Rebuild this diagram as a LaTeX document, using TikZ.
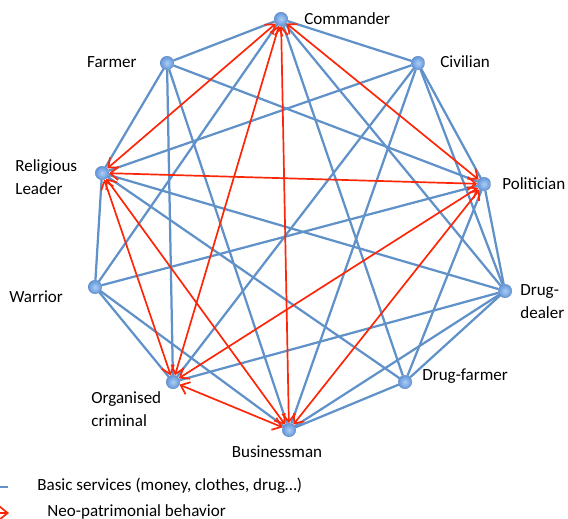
\documentclass[tikz,border=0pt]{standalone}
\usepackage{fontspec}
\setmainfont{Carlito}
\usepackage{tikz}
\usetikzlibrary{arrows.meta,backgrounds}
\definecolor{basicblue}{RGB}{96,146,201}
\definecolor{neored}{RGB}{252,38,8}
\definecolor{ballhi}{RGB}{170,205,245}
\definecolor{ballblue}{RGB}{100,150,218}

\begin{document}
\begin{tikzpicture}[x=0.2mm,y=-0.2mm,
  actor/.style={circle,inner sep=0pt,minimum size=2.7mm,draw=ballblue!85!black,very thin,
    inner color=ballhi,outer color=ballblue},
  basic/.style={basicblue,line width=0.45mm},
  neo/.style={neored,line width=0.34mm,{Straight Barb[length=1.6mm,width=2.6mm]}-{Straight Barb[length=1.6mm,width=2.6mm]}},
  lbl/.style={font=\fontsize{9.7}{13}\selectfont,inner sep=0pt,align=left}]

\useasboundingbox (0,0) rectangle (568,519);

% actors
\node [actor] (cmd) at (281,19) {};
\node [actor] (civ) at (418,63) {};
\node [actor] (frm) at (167,63) {};
\node [actor] (rel) at (102,173) {};
\node [actor] (pol) at (484,184) {};
\node [actor] (war) at (95,287) {};
\node [actor] (dea) at (505,291) {};
\node [actor] (dfa) at (405,382) {};
\node [actor] (org) at (173,382) {};
\node [actor] (bus) at (289,430) {};

% labels
\node [lbl,anchor=west] (lcmd) at (304,19) {Commander};
\node [lbl,anchor=west] (lciv) at (440,62) {Civilian};
\node [lbl,anchor=east] (lfrm) at (137,62) {Farmer};
\node [lbl,anchor=west] (lrel) at (15,177) {Religious\\Leader};
\node [lbl,anchor=west] (lpol) at (502,184) {Politician};
\node [lbl,anchor=west] (lwar) at (9,297) {Warrior};
\node [lbl,anchor=west] (ldea) at (520,302) {Drug-\\dealer};
\node [lbl,anchor=west] (ldfa) at (422,376) {Drug-farmer};
\node [lbl,anchor=west] (lorg) at (91,409) {Organised\\criminal};
\node [lbl] (lbus) at (277,452) {Businessman};

\begin{scope}[on background layer]
% basic services
\draw [basic] (cmd) -- (frm) (cmd) -- (civ) (cmd) -- (war) (cmd) -- (dea) (cmd) -- (dfa);
\draw [basic] (rel) -- (frm) (rel) -- (war) (rel) -- (civ) (rel) -- (dea) (rel) -- (dfa);
\draw [basic] (pol) -- (frm) (pol) -- (war) (pol) -- (civ) (pol) -- (dea) (pol) -- (dfa);
\draw [basic] (org) -- (frm) (org) -- (war) (org) -- (civ) (org) -- (dea);
\draw [basic] (bus) -- (frm) (bus) -- (war) (bus) -- (civ) (bus) -- (dea) (bus) -- (dfa);
\draw [basic] (dea) -- (dfa) (dea) -- (civ);
% neo-patrimonial
\draw [neo] (cmd) -- (rel);
\draw [neo] (cmd) -- (org);
\draw [neo] (cmd) -- (bus);
\draw [neo] (cmd) -- (pol);
\draw [neo] (rel) -- (pol);
\draw [neo] (rel) -- (org);
\draw [neo] (rel) -- (bus);
\draw [neo] (org) -- (bus);
\draw [neo] (org) -- (pol);
\draw [neo] (bus) -- (pol);
\end{scope}

% legend
\coordinate (k1) at (-30,487);
\coordinate (k2) at (8,487);
\coordinate (k3) at (-30,513);
\coordinate (k4) at (9,513);
\draw [basic] (k1) -- (k2);
\draw [neored,line width=0.34mm,-{Straight Barb[length=1.6mm,width=2.6mm]}] (k3) -- (k4);
\node [lbl,anchor=west] (kb) at (37,486) {Basic services (money, clothes, drug…)};
\node [lbl,anchor=west] (kn) at (47,512) {Neo-patrimonial behavior};
\end{tikzpicture}
\end{document}
